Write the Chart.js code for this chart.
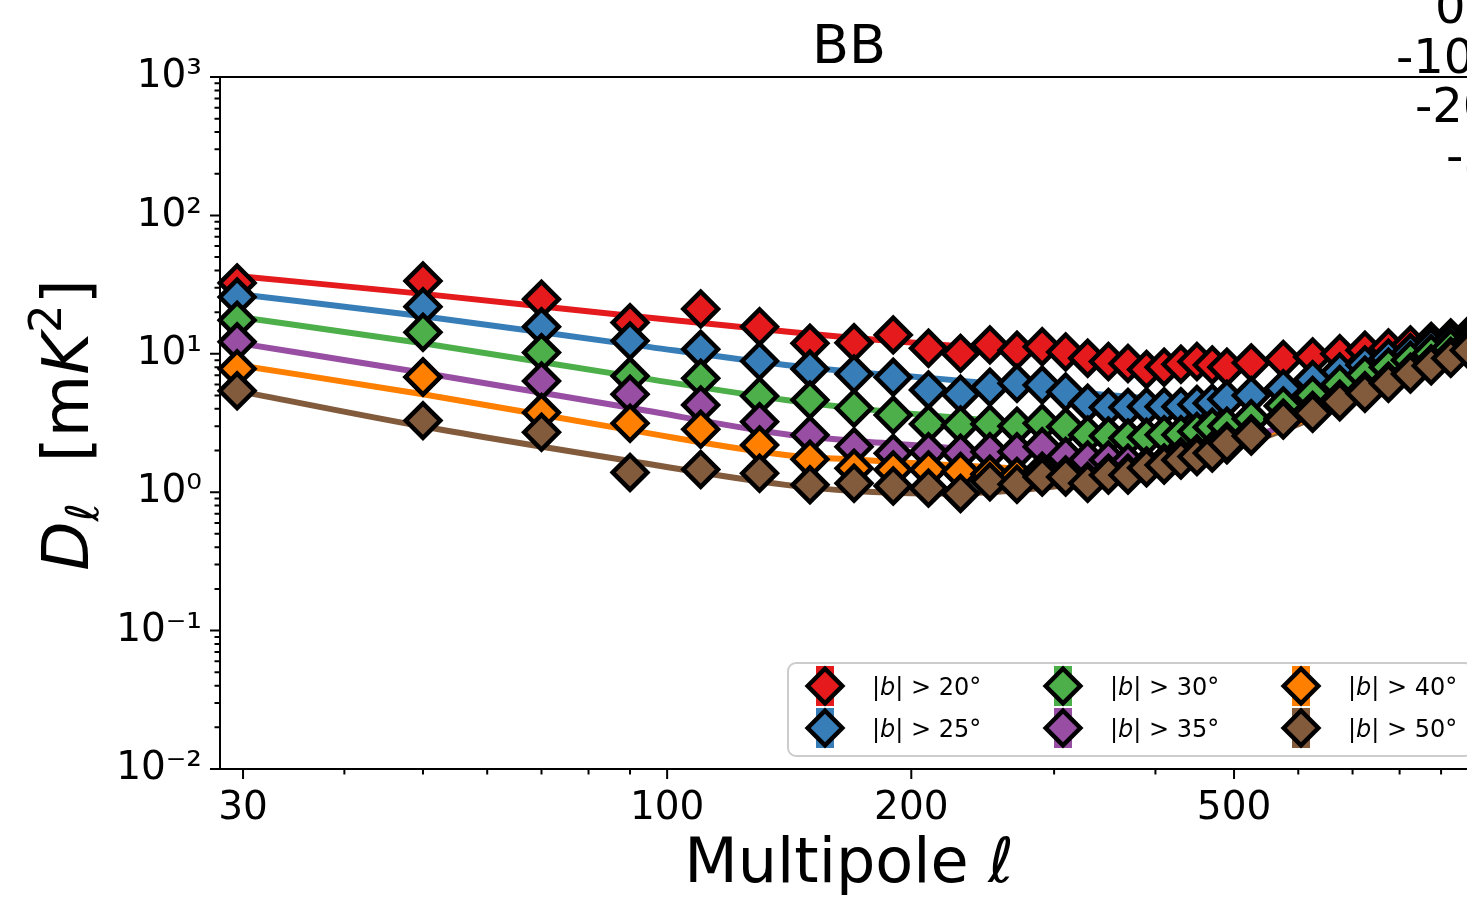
<!DOCTYPE html>
<html>
<head>
<meta charset="utf-8">
<title>BB power spectra</title>
<script src="https://cdn.jsdelivr.net/npm/chart.js@4.4.1/dist/chart.umd.min.js"></script>
<style>
  html, body { margin: 0; padding: 0; background: #ffffff; overflow: hidden; }
  #wrap { position: relative; width: 1500px; height: 902px; }
</style>
</head>
<body>
<div id="wrap"><canvas id="chart"></canvas></div>
<script>
// Multipole bin centres
const ell = [29.5, 50, 70, 90, 110, 130, 150, 170, 190, 210, 230, 250, 270, 290,
             310, 330, 350, 370, 390, 410, 430, 450, 470, 490,
             525, 575, 625, 675, 725, 775, 825, 875, 925, 975];

// Measured band powers D_ell [mK^2], one array per latitude cut
const dlB20 = [32.5, 33.6, 24.8, 16.8, 21.1, 15.7, 11.9, 12.0, 13.7, 10.96, 10.07, 11.6, 10.6, 11.25,
               10.3, 9.3, 8.8, 8.5, 7.7, 8.0, 8.4, 8.8, 8.3, 8.0,
               8.6, 9.1, 9.5, 10.0, 10.6, 11.0, 11.6, 12.3, 13.0, 13.8];
const dlB25 = [25.7, 21.9, 15.7, 12.4, 10.8, 8.87, 7.77, 7.15, 6.76, 5.48, 5.1, 5.73, 6.12, 5.95,
               5.3, 4.4, 4.1, 4.1, 4.15, 4.15, 4.15, 4.3, 4.4, 4.7,
               5.0, 5.6, 6.5, 7.4, 8.3, 9.3, 10.2, 11.2, 12.2, 13.0];
const dlB30 = [17.5, 14.3, 10.2, 6.9, 6.65, 4.95, 4.64, 4.04, 3.61, 3.11, 3.06, 3.11, 3.0, 3.15,
               2.97, 2.59, 2.55, 2.46, 2.5, 2.6, 2.6, 2.75, 2.95, 3.0,
               3.4, 4.2, 5.0, 6.0, 7.0, 8.0, 9.0, 10.0, 11.0, 12.0];
const dlB35 = [12.2, 6.8, 6.36, 5.1, 4.27, 3.23, 2.59, 2.13, 1.91, 1.96, 1.91, 1.96, 1.96, 2.13,
               1.81, 1.71, 1.71, 1.62, 1.53, 1.62, 1.8, 1.9, 2.0, 2.2,
               2.6, 3.4, 3.9, 4.7, 5.4, 6.3, 7.3, 8.4, 9.4, 10.5];
const dlB40 = [7.8, 6.8, 3.76, 3.15, 2.85, 2.19, 1.73, 1.49, 1.45, 1.45, 1.41, 1.35, 1.3, 1.42,
               1.33, 1.2, 1.37, 1.37, 1.55, 1.62, 1.76, 1.86, 1.98, 2.33,
               2.63, 3.42, 3.83, 4.65, 5.35, 6.3, 7.36, 8.45, 9.55, 10.9];
const dlB50 = [5.4, 3.29, 2.71, 1.39, 1.46, 1.37, 1.13, 1.16, 1.11, 1.07, 0.98, 1.19, 1.14, 1.29,
               1.29, 1.16, 1.33, 1.33, 1.5, 1.57, 1.71, 1.81, 1.92, 2.26,
               2.55, 3.32, 3.72, 4.51, 5.19, 6.12, 7.15, 8.2, 9.27, 10.6];

// Best-fit model curves, sampled at these multipoles
const fitEll = [29.5, 50, 90, 140, 170, 210, 250, 300, 400, 500, 600, 700, 800, 1000];
const fitB20 = [36.5, 27.1, 18.8, 14.5, 13.0, 11.8, 10.9, 10.0, 9.0, 8.8, 9.3, 10.2, 11.2, 13.8];
const fitB25 = [27.0, 18.7, 11.7, 8.3, 7.4, 6.7, 6.1, 5.5, 4.8, 4.9, 5.7, 6.9, 8.3, 12.0];
const fitB30 = [18.5, 11.9, 6.9, 4.64, 4.05, 3.6, 3.3, 3.0, 2.75, 3.0, 4.2, 5.9, 7.7, 12.0];
const fitB35 = [12.0, 7.3, 4.07, 2.62, 2.35, 2.15, 2.0, 1.9, 1.8, 2.3, 3.3, 4.8, 6.5, 10.8];
const fitB40 = [8.3, 5.1, 2.81, 1.86, 1.72, 1.6, 1.52, 1.45, 1.6, 2.2, 3.2, 4.6, 6.3, 10.8];
const fitB50 = [5.4, 2.98, 1.68, 1.13, 1.02, 0.98, 1.0, 1.1, 1.45, 2.1, 3.1, 4.6, 6.3, 10.5];

// Latitude cuts (degrees) and their colours
const cuts   = [20, 25, 30, 35, 40, 50];
const colors = ['#e41a1c', '#377eb8', '#4daf4a', '#984ea3', '#ff7f00', '#825a3c'];

// Axis ticks
const xMajorTicks = [30, 100, 200, 500];
const xTickLabels = ['30', '100', '200', '500'];
const xMinorTicks = [40, 50, 60, 70, 80, 90, 300, 400, 600, 700, 800, 900];
const yMajorTicks = [0.01, 0.1, 1, 10, 100, 1000];
const yTickLabels = ['10\u207B\u00B2', '10\u207B\u00B9', '10\u2070', '10\u00B9', '10\u00B2', '10\u00B3'];

// Labels drawn along the upper right margin
const sideLabels = ['0', '-10', '-20', '-30'];

const dataSeries = [dlB20, dlB25, dlB30, dlB35, dlB40, dlB50];
const fitSeries  = [fitB20, fitB25, fitB30, fitB35, fitB40, fitB50];

const FONT = 'DejaVu Sans';
const MARK_R = 17.3;
const MARK_BW = 4.5;
Chart.defaults.font.family = FONT;
Chart.defaults.color = '#000000';

const datasets = [];
fitSeries.forEach((vals, k) => {
  datasets.push({
    label: 'fit ' + cuts[k],
    data: fitEll.map((x, i) => ({ x: x, y: vals[i] })),
    showLine: true,
    borderColor: colors[k],
    borderWidth: 6,
    pointRadius: 0,
    pointHoverRadius: 0,
    fill: false,
    cubicInterpolationMode: 'monotone',
    clip: false,
    order: 20 + k
  });
});
dataSeries.forEach((vals, k) => {
  datasets.push({
    label: '|b| > ' + cuts[k] + '\u00B0',
    data: ell.map((x, i) => ({ x: x, y: vals[i] })),
    showLine: false,
    pointStyle: 'rectRot',
    pointRadius: MARK_R,
    pointHoverRadius: MARK_R,
    pointBackgroundColor: colors[k],
    pointBorderColor: '#000000',
    pointBorderWidth: MARK_BW,
    pointHoverBorderWidth: MARK_BW,
    clip: false,
    order: 10 - k
  });
});

function diamond(ctx, x, y, r) {
  ctx.beginPath();
  ctx.moveTo(x - r, y);
  ctx.lineTo(x, y - r);
  ctx.lineTo(x + r, y);
  ctx.lineTo(x, y + r);
  ctx.closePath();
}

function drawParts(ctx, parts, startX, baseY) {
  let x = startX;
  parts.forEach(p => {
    ctx.font = p.font;
    ctx.fillText(p.t, x, baseY + (p.dy || 0));
    x += ctx.measureText(p.t).width + (p.gap || 0);
  });
  return x;
}
function partsWidth(ctx, parts) {
  let w = 0;
  parts.forEach(p => { ctx.font = p.font; w += ctx.measureText(p.t).width + (p.gap || 0); });
  return w;
}

const decor = {
  id: 'decor',
  afterDraw(chart) {
    const ctx = chart.ctx;
    const ca = chart.chartArea;
    const xs = chart.scales.x, ys = chart.scales.y;
    ctx.save();
    ctx.strokeStyle = '#000000';
    ctx.fillStyle = '#000000';
    ctx.lineWidth = 2;
    ctx.lineCap = 'butt';
    ctx.lineJoin = 'miter';

    // frame
    ctx.strokeRect(ca.left, ca.top, ca.right - ca.left, ca.bottom - ca.top);

    // x tick marks
    ctx.beginPath();
    xMajorTicks.forEach(v => { const p = xs.getPixelForValue(v); ctx.moveTo(p, ca.bottom); ctx.lineTo(p, ca.bottom + 10); });
    xMinorTicks.forEach(v => { const p = xs.getPixelForValue(v); ctx.moveTo(p, ca.bottom); ctx.lineTo(p, ca.bottom + 5.5); });
    // y tick marks
    yMajorTicks.forEach(v => { const p = ys.getPixelForValue(v); ctx.moveTo(ca.left, p); ctx.lineTo(ca.left - 10, p); });
    for (let e = -2; e < 3; e++) {
      for (let m = 2; m < 10; m++) {
        const p = ys.getPixelForValue(m * Math.pow(10, e));
        ctx.moveTo(ca.left, p); ctx.lineTo(ca.left - 5.5, p);
      }
    }
    ctx.stroke();

    const midX = (ca.left + ca.right) / 2;

    // panel title
    ctx.textAlign = 'center';
    ctx.textBaseline = 'alphabetic';
    ctx.font = '54px "' + FONT + '"';
    ctx.fillText('BB', midX, 63);

    // x axis title
    ctx.textAlign = 'left';
    const xt = [
      { t: 'Multipole ', font: '62px "' + FONT + '"' },
      { t: '\u2113', font: 'italic 62px "' + FONT + '"' }
    ];
    drawParts(ctx, xt, midX - partsWidth(ctx, xt) / 2, 882);

    // y axis title, rotated
    const F = 64;
    const yt = [
      { t: 'D', font: 'italic ' + F + 'px "' + FONT + '"' },
      { t: '\u2113', font: 'italic ' + Math.round(F * 0.7) + 'px "' + FONT + '"', dy: F * 0.16 },
      { t: '  [m', font: F + 'px "' + FONT + '"' },
      { t: 'K', font: 'italic ' + F + 'px "' + FONT + '"' },
      { t: '2', font: Math.round(F * 0.7) + 'px "' + FONT + '"', dy: -F * 0.42 },
      { t: ']', font: F + 'px "' + FONT + '"' }
    ];
    ctx.save();
    ctx.translate(88, 425);
    ctx.rotate(-Math.PI / 2);
    drawParts(ctx, yt, -partsWidth(ctx, yt) / 2, 0);
    ctx.restore();

    // labels along the upper right margin
    ctx.font = '48px "' + FONT + '"';
    ctx.textAlign = 'left';
    const sideX = [1435, 1396, 1415, 1446];
    const sideY = [23, 73, 122, 172];
    sideLabels.forEach((s, i) => ctx.fillText(s, sideX[i], sideY[i]));

    // legend
    const lx = 788, ly = 663, lw = 685, lh = 93;
    ctx.beginPath();
    ctx.roundRect(lx, ly, lw, lh, 8);
    ctx.fillStyle = 'rgba(255,255,255,0.8)';
    ctx.fill();
    ctx.strokeStyle = '#cccccc';
    ctx.lineWidth = 2;
    ctx.stroke();
    cuts.forEach((c, k) => {
      const col = Math.floor(k / 2), row = k % 2;
      const mx = 825 + col * 238, my = 686 + row * 42;
      ctx.fillStyle = colors[k];
      ctx.fillRect(mx - 9, my - 20, 18, 40);
      diamond(ctx, mx, my, MARK_R);
      ctx.fill();
      ctx.strokeStyle = '#000000';
      ctx.lineWidth = MARK_BW;
      ctx.stroke();
      ctx.fillStyle = '#000000';
      const lt = [
        { t: '|', font: '24px "' + FONT + '"' },
        { t: 'b', font: 'italic 24px "' + FONT + '"' },
        { t: '| > ' + c + '\u00B0', font: '24px "' + FONT + '"' }
      ];
      drawParts(ctx, lt, mx + 47, my + 9);
    });
    ctx.restore();
  }
};

new Chart(document.getElementById('chart'), {
  type: 'line',
  data: { datasets: datasets },
  options: {
    responsive: true,
    maintainAspectRatio: false,
    devicePixelRatio: 1,
    animation: false,
    events: [],
    layout: { padding: { top: 77, right: 15, bottom: 0, left: 0 } },
    plugins: { legend: { display: false }, tooltip: { enabled: false }, title: { display: false } },
    scales: {
      x: {
        type: 'logarithmic',
        min: 28.1,
        max: 1000,
        bounds: 'data',
        afterBuildTicks: s => { s.ticks = xMajorTicks.map(v => ({ value: v })); },
        afterFit: s => { s.height = 133; },
        ticks: {
          autoSkip: false, maxRotation: 0, padding: 16,
          font: { size: 39 }, color: '#000000',
          callback: (v, i) => xTickLabels[i]
        },
        grid: { display: false, drawTicks: false },
        border: { display: false }
      },
      y: {
        type: 'logarithmic',
        min: 0.01,
        max: 1000,
        bounds: 'data',
        afterBuildTicks: s => { s.ticks = yMajorTicks.map(v => ({ value: v })); },
        afterFit: s => { s.width = 220; },
        ticks: {
          autoSkip: false, padding: 18,
          font: { size: 39 }, color: '#000000',
          callback: (v, i) => yTickLabels[i]
        },
        grid: { display: false, drawTicks: false },
        border: { display: false }
      }
    }
  },
  plugins: [decor]
});
</script>
</body>
</html>
